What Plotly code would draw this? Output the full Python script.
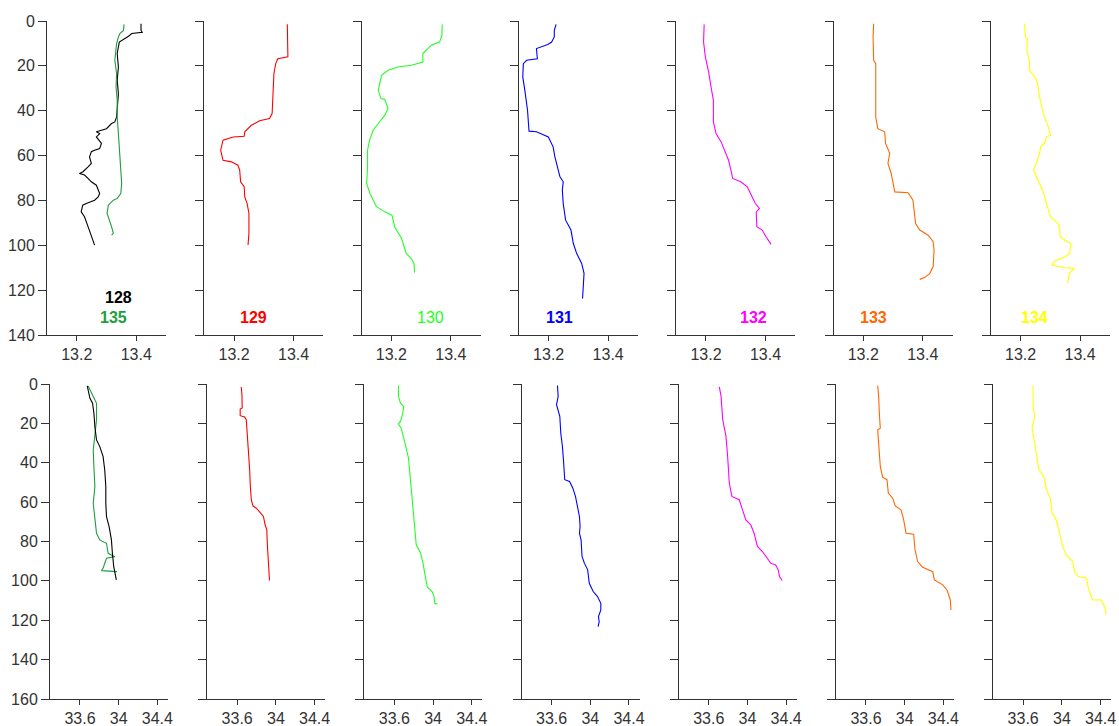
import plotly.graph_objects as go

# ---------------- data (temperature, top row) ----------------
t128_x = [13.416,13.416,13.42,13.385,13.374,13.357,13.343,13.34,13.336,13.34,13.336,13.34,13.336,13.334,13.328,13.317,13.3,13.266,13.277,13.266,13.283,13.277,13.26,13.249,13.243,13.249,13.238,13.22,13.209,13.226,13.238,13.249,13.266,13.272,13.277,13.272,13.26,13.232,13.22,13.215,13.226,13.238,13.249,13.26]
t128_y = [1.2,4.2,5,5.6,6.8,8.3,9.4,11.6,14.5,20.5,26.4,32.4,39.8,42.8,45,45.7,48,49.4,50.2,51.7,54.6,56.9,57.6,58.3,60.6,63.5,65,67.3,68,68.7,70.2,71.7,73.2,75.4,76.9,78.4,79.9,81.4,82.1,85.1,87.3,91.7,95.5,99.9]
t135_x = [13.359,13.357,13.345,13.34,13.334,13.332,13.328,13.334,13.332,13.336,13.336,13.34,13.343,13.348,13.351,13.348,13.336,13.323,13.306,13.302,13.311,13.317,13.323,13.317]
t135_y = [1.5,4.2,5.6,7.1,10.1,13,17.5,23.5,29.4,35.3,42.8,50.2,57.6,65,72.4,76.9,79.1,79.9,82.1,85.8,88.8,91.7,94.7,95.5]
t129_x = [13.379,13.379,13.381,13.347,13.34,13.334,13.331,13.328,13.319,13.286,13.258,13.236,13.234,13.197,13.163,13.155,13.163,13.191,13.213,13.219,13.222,13.234,13.236,13.244,13.25,13.25,13.247]
t129_y = [1.5,9.8,16,16.8,19,23.5,30.9,41.3,43.5,44.5,46.5,49.4,51.4,51.7,53.1,57.6,62.1,62.8,64.3,66.5,71.7,73.9,78.4,81.4,85.8,94.7,99.9]
t130_x = [13.371,13.37,13.362,13.334,13.323,13.306,13.306,13.267,13.222,13.189,13.167,13.156,13.165,13.178,13.189,13.178,13.156,13.139,13.127,13.12,13.12,13.117,13.128,13.15,13.178,13.202,13.211,13.234,13.25,13.267,13.276,13.278]
t130_y = [1.5,6.4,9.4,10.8,12.3,14.5,18.3,19.7,20.5,22,24.2,30.9,34.6,35,39,42,45.7,48.7,53.1,57.6,65,72.4,76.9,82.8,85.1,86.6,91.7,96.9,103.6,105.9,108.1,112.2]
t131_x = [13.225,13.219,13.219,13.21,13.197,13.159,13.162,13.126,13.115,13.113,13.12,13.129,13.134,13.159,13.199,13.215,13.221,13.23,13.238,13.249,13.246,13.249,13.257,13.275,13.283,13.294,13.311,13.319,13.316,13.314]
t131_y = [1.5,4.2,7.1,9.4,10.5,12.3,16.8,17.5,19,24.9,30.9,39.8,49.1,49.4,51.7,56.1,60.6,65,69.5,71.7,75.4,81.4,88.8,93.2,99.2,103.6,108.1,112.5,117.7,123.7]
t132_x = [13.194,13.194,13.192,13.198,13.209,13.217,13.225,13.225,13.234,13.251,13.265,13.276,13.284,13.29,13.317,13.339,13.355,13.366,13.38,13.369,13.371,13.389,13.402,13.419]
t132_y = [1.5,5.6,9.4,16,22.7,29.4,35.3,45,50.2,53.9,58.3,62.1,66.5,70.2,71.7,73.9,78.4,81.4,83.6,85.1,91.7,93.2,96.2,99.6]
t133_x = [13.235,13.233,13.235,13.242,13.242,13.249,13.272,13.275,13.289,13.283,13.294,13.306,13.351,13.367,13.376,13.39,13.418,13.435,13.438,13.435,13.424,13.407,13.39]
t133_y = [1.2,7.1,17.5,19,42.8,48,49.4,54.6,59,63.5,68,76.2,76.6,79.9,90.3,93.2,95.5,98.4,102.1,109.5,112.5,114.3,115.2]
t134_x = [13.214,13.216,13.223,13.222,13.23,13.23,13.244,13.256,13.264,13.278,13.293,13.301,13.287,13.283,13.268,13.261,13.248,13.244,13.261,13.278,13.29,13.301,13.33,13.333,13.352,13.369,13.365,13.352,13.316,13.305,13.341,13.381,13.364,13.358]
t134_y = [1.2,7.1,7.9,13,18.3,22,24.2,27.1,33.8,42,47.2,50.9,51.7,53.9,56.1,60.6,65,66.5,71.7,76.9,82.8,87.3,91,96.2,98,99.2,103.6,105.1,106.9,108.8,109.9,110.3,112.5,117]

# ---------------- data (salinity, bottom row) ----------------
s128_x = [33.675,33.685,33.703,33.73,33.744,33.754,33.771,33.805,33.839,33.856,33.867,33.867,33.874,33.901,33.925,33.935,33.949,33.976]
s128_y = [1,3.9,7.3,9.8,14.9,21.7,28.4,31.8,36.9,43.7,52.1,60.6,67.4,72.5,79.2,86,92.8,99.5]
s135_x = [33.685,33.703,33.737,33.771,33.771,33.754,33.737,33.744,33.754,33.737,33.754,33.771,33.805,33.874,33.891,33.959,33.874,33.856,33.839,33.822,33.983]
s135_y = [1,3,6.4,9.8,18.3,26.7,33.5,42,52.1,60.6,67.4,75.8,79.2,80.9,86,87.7,88.5,91.1,93.6,94.8,95.3]
s129_x = [33.642,33.649,33.652,33.631,33.631,33.677,33.694,33.701,33.711,33.722,33.729,33.736,33.746,33.763,33.798,33.843,33.871,33.889,33.906,33.913,33.923,33.934]
s129_y = [1.5,5.4,12.2,12.7,16.1,16.8,18.1,22.4,31.7,38.5,43.6,52,58.8,61.9,63.1,65.6,67.3,71.5,74.1,82.5,91,99.8]
s130_x = [33.642,33.642,33.663,33.697,33.687,33.663,33.642,33.67,33.697,33.722,33.746,33.757,33.774,33.791,33.809,33.826,33.871,33.896,33.92,33.941,33.99,34.01,34.017,34.045]
s130_y = [0.8,6.3,9.7,11.4,14.7,19,20.2,22.4,27.5,33.4,37.6,43.6,53.7,62.2,70.7,81.7,85.9,91,97.8,103.2,105.4,108,111.4,111.9]
s131_x = [33.661,33.668,33.651,33.685,33.695,33.712,33.725,33.736,33.786,33.82,33.847,33.864,33.888,33.895,33.888,33.905,33.915,33.939,33.973,33.99,34.03,34.075,34.109,34.109,34.085,34.092,34.081]
s131_y = [0.8,6.3,10.5,16.4,24.9,31.7,40.2,48.6,49.5,52.9,57.1,61.4,67.3,72.4,75.8,79.2,87.6,91,94.4,101.2,105.4,108,111.4,114.8,118.1,120.7,123.2]
s132_x = [33.709,33.727,33.744,33.778,33.795,33.812,33.839,33.915,33.949,33.983,34.034,34.068,34.103,34.154,34.205,34.239,34.291,34.318,34.332,34.359]
s132_y = [1.5,6.3,18.1,26.6,36.8,50.3,57.1,58.8,63.9,69,71.5,75.8,82.5,85.1,88.5,91,91.9,94.4,97.8,99.8]
s133_x = [33.721,33.731,33.738,33.748,33.721,33.728,33.738,33.748,33.772,33.817,33.831,33.876,33.903,33.962,33.99,34.014,34.093,34.107,34.134,34.186,34.29,34.307,34.393,34.438,34.472,34.479]
s133_y = [0.8,6.3,14.7,22.4,23.2,26.6,35.1,41.9,47.3,48.6,55.4,58,61.9,63.9,69,75.8,76.3,84.2,90.2,93.1,95.3,99.5,102,104.6,109.7,114.8]
s134_x = [33.702,33.702,33.719,33.692,33.719,33.746,33.763,33.814,33.841,33.881,33.898,33.942,33.966,34.01,34.044,34.112,34.136,34.17,34.256,34.273,34.317,34.408,34.442,34.459]
s134_y = [0.8,11.4,16.4,22.4,30,38.5,43.6,47,53.7,58,65.6,69,74.1,82.5,86.8,90.2,96.1,97.8,98.7,103.7,109.7,109.7,113.1,117.3]

stations = ["128", "129", "130", "131", "132", "133", "134"]
label_135 = "135"
temp_ticks = [13.2, 13.4]
sal_ticks = [33.6, 34, 34.4]
sal_ticktext = ["33.6", "34", "34.4"]
depth_ticks_top = [0, 20, 40, 60, 80, 100, 120, 140]
depth_ticks_bot = [0, 20, 40, 60, 80, 100, 120, 140, 160]

colors = {"128": "#000000", "135": "#1e9e3c", "129": "#ff0000", "130": "#22ff22",
          "131": "#0000ff", "132": "#ff00ff", "133": "#ff6600", "134": "#ffff00"}

top_data = [[("128", t128_x, t128_y), ("135", t135_x, t135_y)],
            [("129", t129_x, t129_y)], [("130", t130_x, t130_y)], [("131", t131_x, t131_y)],
            [("132", t132_x, t132_y)], [("133", t133_x, t133_y)], [("134", t134_x, t134_y)]]
bot_data = [[("135", s135_x, s135_y), ("128", s128_x, s128_y)],
            [("129", s129_x, s129_y)], [("130", s130_x, s130_y)], [("131", s131_x, s131_y)],
            [("132", s132_x, s132_y)], [("133", s133_x, s133_y)], [("134", s134_x, s134_y)]]

# label positions (data coords within each top subplot)
label_pos = [(13.342, 123.5), (13.265, 132), (13.332, 132), (13.238, 132),
             (13.359, 132), (13.234, 132), (13.248, 132)]

W, H = 1119, 726
fig = go.Figure()
font_fam = "Liberation Sans, Arial, sans-serif"
tick_font = dict(family=font_fam, size=16, color="#333333")
axcol = "#333333"

layout = dict(width=W, height=H, margin=dict(l=0, r=0, t=0, b=0),
              paper_bgcolor="white", plot_bgcolor="white", showlegend=False,
              annotations=[])

for i in range(7):
    # top
    n = i + 1
    xa = "xaxis" if n == 1 else f"xaxis{n}"
    ya = "yaxis" if n == 1 else f"yaxis{n}"
    xr = "x" if n == 1 else f"x{n}"
    yr = "y" if n == 1 else f"y{n}"
    left = 47 + 157.3 * i
    layout[xa] = dict(domain=[left / W, (left + 119) / W], range=[13.1, 13.5],
                      tickvals=temp_ticks, ticktext=["13.2", "13.4"], ticks="outside",
                      ticklen=5, tickcolor=axcol, showline=True, linecolor=axcol, linewidth=1,
                      showgrid=False, zeroline=False, tickfont=tick_font, anchor=yr,
                      fixedrange=True, automargin=False)
    layout[ya] = dict(domain=[1 - 335 / H, 1 - 21 / H], range=[140, 0],
                      tickvals=depth_ticks_top, ticks="outside", ticklen=8, tickcolor=axcol,
                      showline=True, linecolor=axcol, linewidth=1, showgrid=False,
                      zeroline=False, showticklabels=(i == 0), tickfont=tick_font,
                      anchor=xr, fixedrange=True, automargin=False)
    for name, xs, ys in top_data[i]:
        fig.add_trace(go.Scatter(x=xs, y=ys, mode="lines", xaxis=xr, yaxis=yr,
                                 line=dict(color=colors[name], width=1.1)))
    st = stations[i]
    lx, ly = label_pos[i]
    layout["annotations"].append(dict(x=lx, y=ly, xref=xr, yref=yr, text=st, showarrow=False,
                                      font=dict(family=font_fam, size=16, color=colors[st],
                                                weight=("normal" if st == "130" else "bold"))))
    if i == 0:
        layout["annotations"].append(dict(x=13.325, y=132.4, xref=xr, yref=yr, text=label_135,
                                          showarrow=False,
                                          font=dict(family=font_fam, size=16,
                                                    color=colors["135"], weight="bold")))
    # bottom
    m = i + 8
    xa = f"xaxis{m}"
    ya = f"yaxis{m}"
    xr = f"x{m}"
    yr = f"y{m}"
    left = 50 + 157.2 * i
    layout[xa] = dict(domain=[left / W, (left + 118) / W], range=[33.29, 34.51],
                      tickvals=sal_ticks, ticktext=sal_ticktext, ticks="outside",
                      ticklen=5, tickcolor=axcol, showline=True, linecolor=axcol, linewidth=1,
                      showgrid=False, zeroline=False, tickfont=tick_font, anchor=yr,
                      fixedrange=True, automargin=False)
    layout[ya] = dict(domain=[1 - 699 / H, 1 - 384 / H], range=[160, 0],
                      tickvals=depth_ticks_bot, ticks="outside", ticklen=8, tickcolor=axcol,
                      showline=True, linecolor=axcol, linewidth=1, showgrid=False,
                      zeroline=False, showticklabels=(i == 0), tickfont=tick_font,
                      anchor=xr, fixedrange=True, automargin=False)
    for name, xs, ys in bot_data[i]:
        fig.add_trace(go.Scatter(x=xs, y=ys, mode="lines", xaxis=xr, yaxis=yr,
                                 line=dict(color=colors[name], width=1.1)))

fig.update_layout(**layout)
fig.write_html("out.html")
